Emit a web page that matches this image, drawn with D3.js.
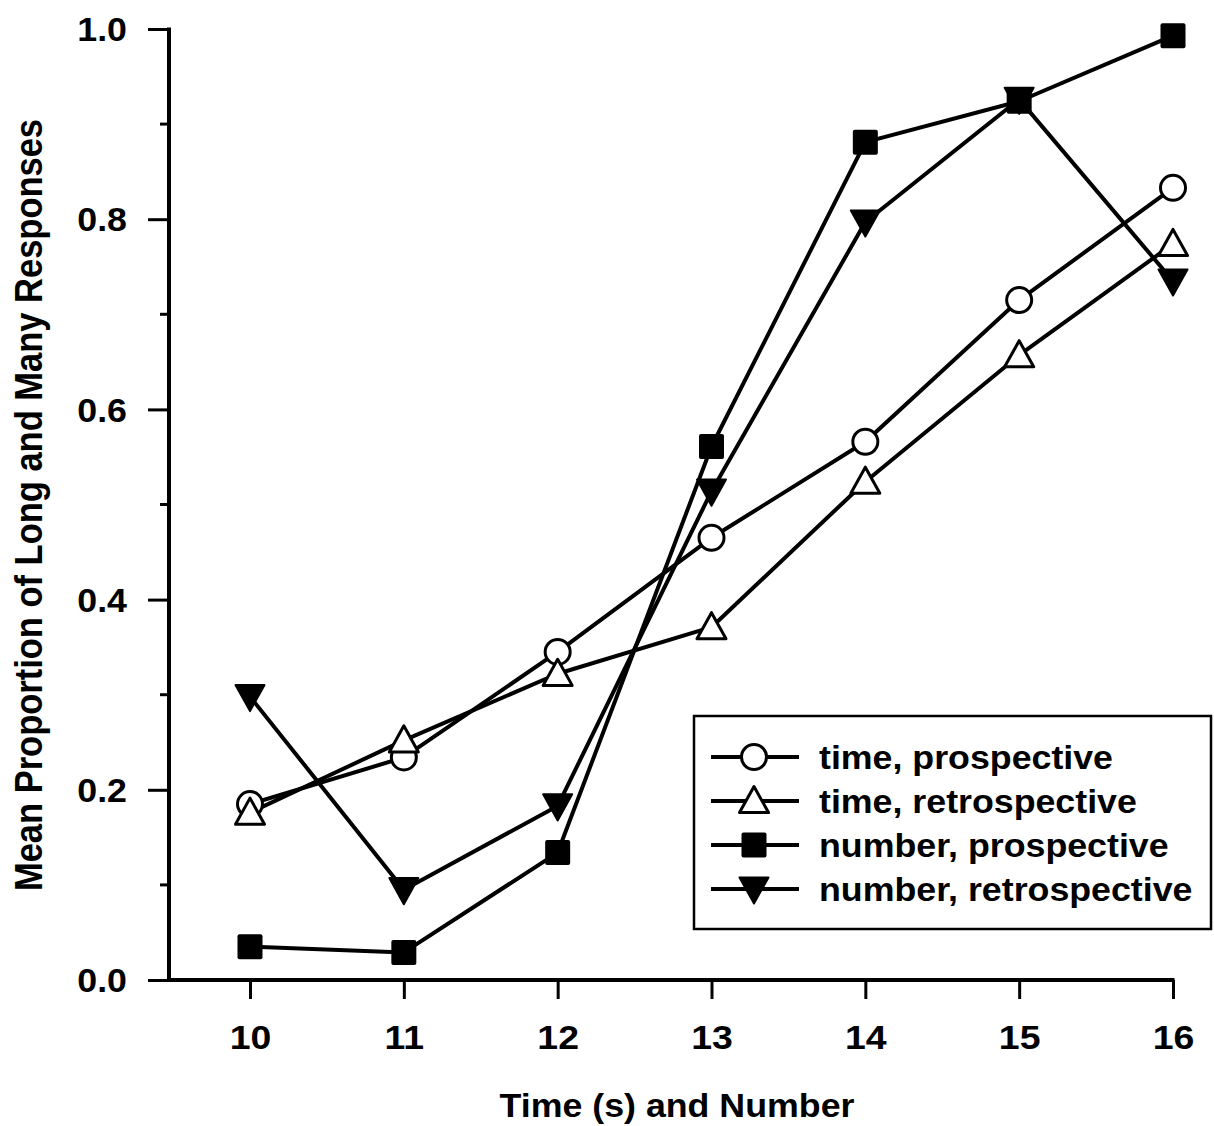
<!DOCTYPE html>
<html>
<head>
<meta charset="utf-8">
<script src="https://cdn.jsdelivr.net/npm/d3@7"></script>
<style>
  html, body { margin: 0; padding: 0; background: #fff; }
  svg { display: block; }
  text { font-family: "Liberation Sans", Arial, Helvetica, sans-serif; font-weight: bold; fill: #000; }
</style>
</head>
<body>
<svg id="chart" width="1214" height="1126"></svg>
<script>
// Stimulus values on the x axis
const xValues = [10, 11, 12, 13, 14, 15, 16];

// Mean proportion of "long"/"many" responses per condition
const timeProspective     = [0.185, 0.234, 0.345, 0.465, 0.566, 0.715, 0.833];
const timeRetrospective   = [0.176, 0.252, 0.322, 0.371, 0.524, 0.657, 0.774];
const numberProspective   = [0.035, 0.029, 0.134, 0.561, 0.881, 0.924, 0.993];
const numberRetrospective = [0.298, 0.095, 0.183, 0.514, 0.797, 0.926, 0.735];

const seriesNames = ["time, prospective", "time, retrospective", "number, prospective", "number, retrospective"];
const seriesMarkers = ["circle", "triangle", "square", "down"];
const seriesValues = [timeProspective, timeRetrospective, numberProspective, numberRetrospective];

const yMajorTicks = [0, 0.2, 0.4, 0.6, 0.8, 1.0];
const yMinorTicks = [0.1, 0.3, 0.5, 0.7, 0.9];

// Lettering is set slightly wide
const WIDE = 1.1;
const FONT = 32.5;

const svg = d3.select("#chart");

const x = d3.scaleLinear().domain([10, 16]).range([250, 1173]);
const y = d3.scaleLinear().domain([0, 1]).range([980, 29]);
const axisLeftX = 169;

// Y axis
const yAxis = d3.axisLeft(y).tickValues(yMajorTicks).tickFormat(d3.format(".1f"))
  .tickSize(21).tickPadding(0);
const gy = svg.append("g").attr("transform", `translate(${axisLeftX},0)`).call(yAxis);
gy.select(".domain").remove();
gy.selectAll(".tick line").attr("stroke", "#000").attr("stroke-width", 3);
gy.selectAll(".tick text").attr("x", null).attr("dy", "0.36em").style("font-size", FONT + "px")
  .attr("transform", `translate(-42,0) scale(${WIDE},1)`);

svg.append("g").selectAll("line").data(yMinorTicks).join("line")
  .attr("x1", axisLeftX - 9).attr("x2", axisLeftX)
  .attr("y1", d => y(d)).attr("y2", d => y(d))
  .attr("stroke", "#000").attr("stroke-width", 3);

svg.append("line").attr("x1", axisLeftX).attr("x2", axisLeftX)
  .attr("y1", y(1) - 1.5).attr("y2", y(0)).attr("stroke", "#000").attr("stroke-width", 4);

// X axis
const xAxis = d3.axisBottom(x).tickValues(xValues).tickFormat(d3.format("d"))
  .tickSize(19).tickPadding(26);
const gx = svg.append("g").attr("transform", `translate(0,${y(0)})`).call(xAxis);
gx.select(".domain").remove();
gx.selectAll(".tick line").attr("stroke", "#000").attr("stroke-width", 3);
gx.selectAll(".tick text").style("font-size", "34px").attr("transform", `scale(${WIDE},1)`);

svg.append("line").attr("x1", axisLeftX - 2).attr("x2", x(16) + 1.5)
  .attr("y1", y(0)).attr("y2", y(0)).attr("stroke", "#000").attr("stroke-width", 4);

// Axis titles
svg.append("g").attr("transform", `translate(677,1117) scale(${WIDE},1)`)
  .append("text").attr("text-anchor", "middle")
  .style("font-size", FONT + "px").text("Time (s) and Number");
svg.append("g").attr("transform", `translate(42,505) scale(${WIDE},1) rotate(-90)`)
  .append("text").attr("text-anchor", "middle")
  .style("font-size", "34.5px").text("Mean Proportion of Long and Many Responses");

// Marker drawing
function drawMarker(g, type, cx, cy) {
  if (type === "circle") {
    g.append("circle").attr("cx", cx).attr("cy", cy).attr("r", 12.5)
      .attr("fill", "#fff").attr("stroke", "#000").attr("stroke-width", 3);
  } else if (type === "triangle") {
    const s = 14.5;
    g.append("path").attr("d", `M${cx},${cy - s} L${cx + s},${cy + s * 0.8} L${cx - s},${cy + s * 0.8} Z`)
      .attr("fill", "#fff").attr("stroke", "#000").attr("stroke-width", 3).attr("stroke-linejoin", "round");
  } else if (type === "square") {
    g.append("rect").attr("x", cx - 12.5).attr("y", cy - 12.5).attr("width", 25).attr("height", 25)
      .attr("rx", 2).attr("fill", "#000");
  } else {
    const s = 14.5;
    g.append("path").attr("d", `M${cx - s},${cy - s * 0.8} L${cx + s},${cy - s * 0.8} L${cx},${cy + s} Z`)
      .attr("fill", "#000").attr("stroke", "#000").attr("stroke-width", 2).attr("stroke-linejoin", "round");
  }
}

const line = d3.line().x((d, i) => x(xValues[i])).y(d => y(d));

const linesG = svg.append("g");
seriesValues.forEach(vals => {
  linesG.append("path").attr("d", line(vals)).attr("fill", "none")
    .attr("stroke", "#000").attr("stroke-width", 4).attr("stroke-linejoin", "round");
});
const markersG = svg.append("g");
seriesValues.forEach((vals, si) => {
  vals.forEach((v, i) => drawMarker(markersG, seriesMarkers[si], x(xValues[i]), y(v)));
});

// Legend
const legend = svg.append("g");
legend.append("rect").attr("x", 694).attr("y", 716).attr("width", 517).attr("height", 213)
  .attr("fill", "#fff").attr("stroke", "#000").attr("stroke-width", 2.5);
seriesNames.forEach((name, i) => {
  const cy = 757 + i * 44;
  legend.append("line").attr("x1", 711).attr("x2", 799).attr("y1", cy).attr("y2", cy)
    .attr("stroke", "#000").attr("stroke-width", 4);
  drawMarker(legend, seriesMarkers[i], 754, cy);
  legend.append("g").attr("transform", `translate(819,${cy + 12}) scale(${WIDE},1)`)
    .append("text").style("font-size", FONT + "px").text(name);
});
</script>
</body>
</html>
